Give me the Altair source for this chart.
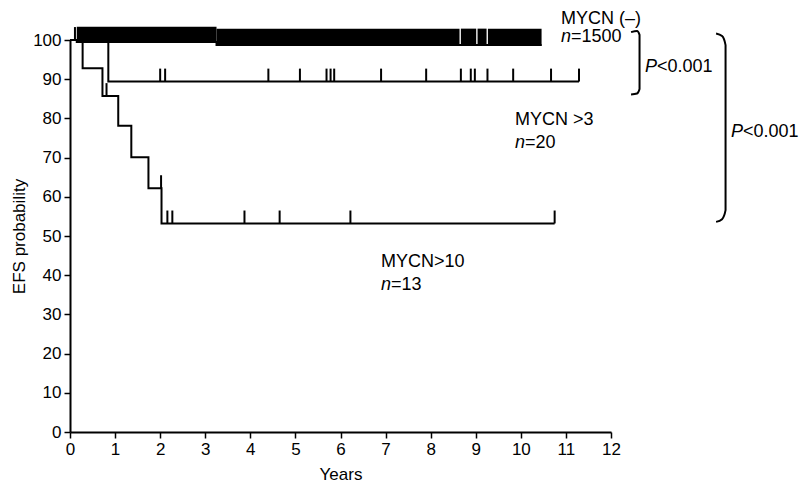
import altair as alt
import pandas as pd

# ---------------- data ----------------
# MYCN (-) : n = 1500 (dense censoring band)
neg_times = [0, 0.15, 3.25, 10.46]
neg_surv = [100, 99.5, 98.7, 98.7]
neg_band_start = [0.15, 3.25, 8.67, 9.04, 9.27]
neg_band_end = [3.25, 8.64, 9.01, 9.24, 10.46]
neg_band_low = [99.3, 98.5, 98.5, 98.5, 98.5]
neg_band_high = [103.4, 102.9, 102.9, 102.9, 102.9]
neg_censor = [0.11]

# MYCN > 3 : n = 20
m3_times = [0, 0.85, 11.29]
m3_surv = [100, 89.4, 89.4]
m3_censor = [2.0, 2.11, 4.40, 5.10, 5.69, 5.78, 5.86, 6.90, 7.90, 8.67,
             8.89, 8.98, 9.26, 9.83, 10.67, 11.29]

# MYCN > 10 : n = 13
m10_times = [0, 0.28, 0.72, 1.07, 1.36, 1.74, 2.03, 10.75]
m10_surv = [100, 92.8, 85.7, 78.1, 70.1, 62.2, 53.2, 53.2]
m10_censor = [0.81, 2.02, 2.16, 2.27, 3.87, 4.65, 6.22, 10.75]

x_ticks = list(range(0, 13))
y_ticks = list(range(0, 101, 10))

TICK_H = 3.3  # height of censoring marks in probability units
FONT = "Liberation Sans"


def level_at(times, surv, t):
    v = surv[0]
    for ti, si in zip(times, surv):
        if ti <= t:
            v = si
    return v


def censor_df(times, surv, cens):
    rows = []
    for c in cens:
        lv = level_at(times, surv, c)
        rows.append({"t": c, "y": lv, "y2": lv + TICK_H})
    return pd.DataFrame(rows)


xs = alt.Scale(domain=[0, 12], nice=False)
ys = alt.Scale(domain=[0, 100], nice=False)

x_axis = alt.Axis(values=x_ticks, title="Years", grid=False,
                  labelOverlap=False, labelFlush=False)
y_axis = alt.Axis(values=y_ticks, title="EFS probability", grid=False,
                  labelOverlap=False, labelFlush=False)


def X(f):
    return alt.X(f, type="quantitative", scale=xs, axis=x_axis)


def Y(f):
    return alt.Y(f, type="quantitative", scale=ys, axis=y_axis)


def km_line(times, surv):
    df = pd.DataFrame({"t": times, "s": surv})
    return alt.Chart(df).mark_line(
        interpolate="step-after", color="black", strokeWidth=2
    ).encode(x=X("t"), y=Y("s"))


def censor_rules(times, surv, cens):
    return alt.Chart(censor_df(times, surv, cens)).mark_rule(
        color="black", strokeWidth=2
    ).encode(x=X("t"), y=Y("y"), y2="y2:Q")


band_df = pd.DataFrame({"a": neg_band_start, "b": neg_band_end,
                        "lo": neg_band_low, "hi": neg_band_high})
band = alt.Chart(band_df).mark_rect(color="black").encode(
    x=X("a"), x2="b:Q", y=Y("lo"), y2="hi:Q")

# brackets (data units)
br1_x = [12.445, 12.578, 12.633, 12.633, 12.578, 12.445]
br1_y = [102.0, 102.3, 101.3, 87.5, 86.35, 86.1]
br2_x = [14.331, 14.464, 14.541, 14.541, 14.464, 14.331]
br2_y = [101.66, 101.0, 98.7, 56.6, 54.3, 53.6]


def bracket(bx, by):
    df = pd.DataFrame({"x": bx, "y": by, "i": range(len(bx))})
    return alt.Chart(df).mark_line(
        color="black", strokeWidth=2, interpolate="monotone"
    ).encode(x=X("x"), y=Y("y"), order="i:Q")


# annotations: (text, x, y, italic, dx)
ann = [
    ("MYCN (–)", 10.89, 104.0, False, 0),
    ("n", 10.89, 99.4, True, 0),
    ("=1500", 10.89, 99.4, False, 10),
    ("P", 12.755, 91.8, True, 0),
    ("<0.001", 12.755, 91.8, False, 12),
    ("MYCN >3", 9.87, 78.3, False, 0),
    ("n", 9.87, 72.5, True, 0),
    ("=20", 9.87, 72.5, False, 10),
    ("P", 14.66, 75.3, True, 0),
    ("<0.001", 14.66, 75.3, False, 12),
    ("MYCN>10", 6.9, 42.1, False, 0),
    ("n", 6.9, 36.3, True, 0),
    ("=13", 6.9, 36.3, False, 10),
]

text_layers = []
for txt, tx, ty, it, dx in ann:
    df = pd.DataFrame({"x": [tx], "y": [ty], "label": [txt]})
    text_layers.append(
        alt.Chart(df).mark_text(
            align="left", baseline="alphabetic", fontSize=18, font=FONT,
            fontStyle="italic" if it else "normal", dx=dx, color="black"
        ).encode(x=X("x"), y=Y("y"), text="label:N")
    )

chart = alt.layer(
    km_line(m10_times, m10_surv),
    censor_rules(m10_times, m10_surv, m10_censor),
    km_line(m3_times, m3_surv),
    censor_rules(m3_times, m3_surv, m3_censor),
    km_line(neg_times, neg_surv),
    censor_rules(neg_times, neg_surv, neg_censor),
    band,
    bracket(br1_x, br1_y),
    bracket(br2_x, br2_y),
    *text_layers,
).properties(
    width=541, height=392,
    autosize=alt.AutoSizeParams(type="none"),
    padding={"left": 62, "top": 32, "right": 191, "bottom": 52},
).configure_view(stroke=None).configure_axis(
    labelFont=FONT, titleFont=FONT, labelFontSize=17, titleFontSize=17,
    titleFontWeight="normal", labelColor="black", titleColor="black",
    domainColor="black", domainWidth=2, tickColor="black", tickWidth=1.5,
    tickSize=6, labelPadding=3, labelOverlap=False,
).configure_axisY(
    titleX=-46, titleY=196, titleBaseline="alphabetic",
).configure_axisX(
    titleY=47, titleBaseline="alphabetic",
)

chart.save("out.html", embed_options={"renderer": "svg", "actions": False})
